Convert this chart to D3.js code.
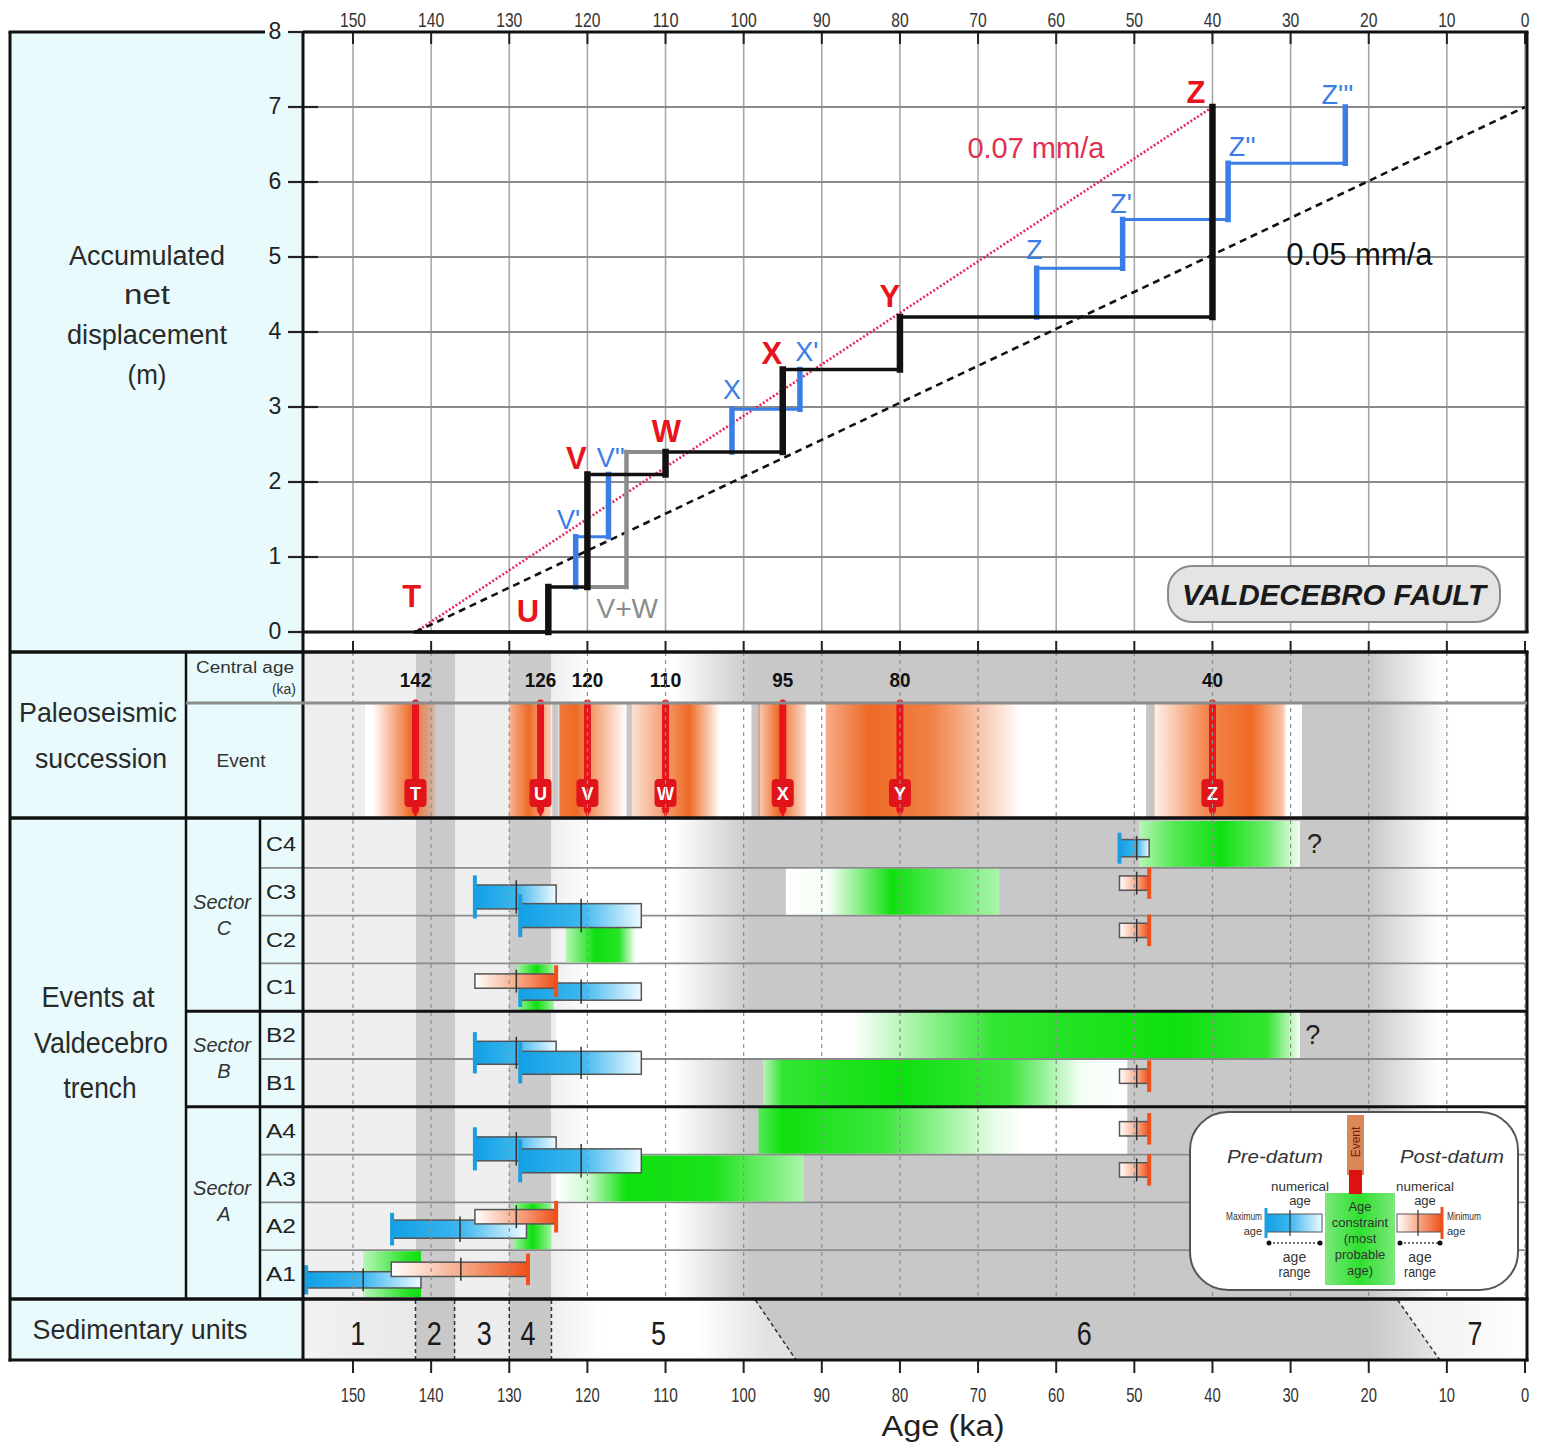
<!DOCTYPE html>
<html>
<head>
<meta charset="utf-8">
<script src="https://cdn.jsdelivr.net/npm/d3@7"></script>
<style>
  body { margin: 0; background: #fff; }
  text { font-family: "Liberation Sans", Arial, sans-serif; }
</style>
</head>
<body>
<svg id="chart" width="1543" height="1453"></svg>
<script>
// ---------------- data ----------------
var ageTicks = [150, 140, 130, 120, 110, 100, 90, 80, 70, 60, 50, 40, 30, 20, 10, 0];
var dispTicks = [0, 1, 2, 3, 4, 5, 6, 7, 8];

var eventNames = ["T", "U", "V", "W", "X", "Y", "Z"];
var eventAges = [142, 126, 120, 110, 95, 80, 40];          // central ages (ka)
var stepAges = [142, 125, 120, 110, 95, 80, 40];           // staircase, main interpretation
var stepDisp = [0, 0.6, 2.1, 2.4, 3.5, 4.2, 7.0];          // accumulated displacement (m)
var redLabelPos = [[142.5, 0.48], [127.6, 0.27], [121.4, 2.32], [109.9, 2.67], [96.4, 3.71], [81.3, 4.48], [42.1, 7.2]];

var altVW = [[120, 0.6], [115, 0.6], [115, 2.4], [110, 2.4]];   // grey V+W alternative
var altBlue = [
  [[121.5, 0.6], [121.5, 1.27], [117.3, 1.27], [117.3, 2.1]],
  [[101.5, 2.4], [101.5, 2.97], [92.8, 2.97], [92.8, 3.5]],
  [[62.5, 4.2], [62.5, 4.85], [51.5, 4.85], [51.5, 5.5], [38, 5.5], [38, 6.25], [23, 6.25], [23, 7.0]]
];
var blueLabels = ["V'", "V''", "X", "X'", "Z", "Z'", "Z''", "Z'''"];
var blueLabelPos = [[122.4, 1.49], [117, 2.32], [101.5, 3.23], [91.9, 3.73], [62.8, 5.09], [51.7, 5.71], [36.2, 6.47], [24, 7.16]];

var rate07 = [[142, 0], [40, 7.0]];
var rate05 = [[142, 0], [0, 7.0]];

// orange glow around each event in the "Event" row: [age, intensity]
var eventGlow = [
  [[147.5, 0], [142.5, 1], [139.5, 0.2]],
  [[130, 0.5], [127.5, 1], [124.6, 0.3]],
  [[123.6, 0.9], [121.5, 1], [115, 0]],
  [[114.3, 0.2], [107, 1], [103, 0]],
  [[98.2, 0.3], [95.5, 1], [92, 0.2]],
  [[89.5, 0.55], [84, 1], [76, 0.85], [64.5, 0]],
  [[48.3, 0], [41, 0.8], [35, 1], [31, 0.4], [30.5, 0]]
];
var eventRowStrips = [[124.5, 123.7], [115, 114.3], [99, 97.9], [48.5, 47.4]];

var rowLabels = ["C4", "C3", "C2", "C1", "B2", "B1", "A4", "A3", "A2", "A1"];
var sectorLabels = [["Sector", "C"], ["Sector", "B"], ["Sector", "A"]];
var sectorSpans = [[0, 4], [4, 6], [6, 10]];

// green "age constraint" bars: [age, intensity]
var greenBars = [
  { row: 0, stops: [[49.4, 0.3], [45, 0.7], [39, 1], [33, 0.6], [28.8, 0.05]] },
  { row: 1, stops: [[94.6, 0], [89, 0.05], [81, 1], [73, 0.6], [67.3, 0.35]] },
  { row: 2, stops: [[122.8, 0.3], [119, 1], [116, 0.9], [113.8, 0], [113.1, 0]] },
  { row: 3, stops: [[129, 0.4], [126.5, 1], [124.3, 0.4]] },
  { row: 4, stops: [[124, 0], [86, 0], [68, 0.85], [45, 1], [33, 0.85], [28.8, 0.05]] },
  { row: 5, stops: [[97.5, 0.3], [95, 0.85], [80, 1], [66, 0.8], [57, 0.05], [50.9, 0]] },
  { row: 6, stops: [[98.1, 0.7], [95, 1], [82, 0.8], [68, 0.1], [64, 0], [50.9, 0]] },
  { row: 7, stops: [[124, 0], [120, 0.2], [115, 1], [104, 0.95], [92.3, 0.35]] },
  { row: 8, stops: [[129.5, 0.4], [127, 1], [124.6, 0.4]] },
  { row: 9, stops: [[148.7, 0.3], [143, 0.9], [141.3, 1]] }
];

// pre-datum (maximum age) bars: ages = [max age, numerical age, end of range]
var preDatum = [
  { row: 1.61, h: 0.5, ages: [134.4, 129.1, 124.0] },
  { row: 2.0, h: 0.5, ages: [128.6, 120.8, 113.1] },
  { row: 3.59, h: 0.36, ages: [128.6, 120.8, 113.1] },
  { row: 4.87, h: 0.48, ages: [134.4, 129.1, 124.0] },
  { row: 5.08, h: 0.48, ages: [128.6, 120.8, 113.1] },
  { row: 6.88, h: 0.5, ages: [134.4, 129.1, 124.0] },
  { row: 7.13, h: 0.5, ages: [128.6, 120.8, 113.1] },
  { row: 0.59, h: 0.36, ages: [51.9, 49.7, 48.1] },
  { row: 8.56, h: 0.38, ages: [145.0, 136.3, 127.8] },
  { row: 9.62, h: 0.34, ages: [156.0, 148.7, 141.3] }
];
// post-datum (minimum age) bars: ages = [start of range, numerical age, min age]
var postDatum = [
  { row: 3.37, h: 0.3, ages: [134.4, 129.1, 124.0] },
  { row: 8.3, h: 0.3, ages: [134.4, 129.1, 124.0] },
  { row: 9.4, h: 0.3, ages: [145.1, 136.2, 127.6] },
  { row: 1.32, h: 0.3, ages: [51.9, 49.7, 48.1] },
  { row: 2.31, h: 0.3, ages: [51.9, 49.7, 48.1] },
  { row: 5.36, h: 0.3, ages: [51.9, 49.7, 48.1] },
  { row: 6.46, h: 0.3, ages: [51.9, 49.7, 48.1] },
  { row: 7.32, h: 0.3, ages: [51.9, 49.7, 48.1] }
];
var questionMarks = [[0, 28.3], [4, 28.5]];

var unitLabels = ["1", "2", "3", "4", "5", "6", "7"];
var unitLabelAges = [149.4, 139.6, 133.2, 127.6, 110.9, 56.4, 6.4];
var unitBounds = [142, 137, 130, 124.6];
var unitDiagonals = [[98.5, 93.3], [16.3, 10.9]];

// background shading (age, colour)
var panelBg = [[156.4, "#efefef"], [142, "#efefef"], [142, "#cacaca"], [137, "#cacaca"], [137, "#efefef"], [130, "#efefef"],
  [130, "#cbcbcb"], [124.6, "#cbcbcb"], [124.6, "#eeeeee"], [119.5, "#ffffff"], [109, "#ffffff"], [99, "#c8c8c8"],
  [20, "#c8c8c8"], [11, "#ffffff"], [0, "#ffffff"]];
var eventRowBg = [[156.4, "#eeeeee"], [148.5, "#eeeeee"], [148.5, "#ffffff"], [142, "#ffffff"], [142, "#cccccc"], [137, "#cccccc"],
  [137, "#eeeeee"], [130, "#eeeeee"], [130, "#ffffff"], [28.6, "#ffffff"], [28.6, "#c8c8c8"], [19.2, "#c8c8c8"], [9.6, "#ffffff"], [0, "#ffffff"]];
var sedBg = [[156.4, "#f2f2f2"], [142, "#e8e8e8"], [142, "#c8c8c8"], [137, "#c8c8c8"], [137, "#ececec"], [130, "#ececec"],
  [130, "#c8c8c8"], [124.6, "#c8c8c8"], [124.6, "#eeeeee"], [118, "#ffffff"], [106, "#ffffff"], [97, "#e2e2e2"], [10, "#f4f4f4"], [0, "#ffffff"]];

// ---------------- setup ----------------
var svg = d3.select("#chart");
var defs = svg.append("defs");
var L = 303, R = 1525;
var x = d3.scaleLinear().domain([156.4, 0]).range([L, R]);
var y = d3.scaleLinear().domain([0, 8]).range([632, 32]);
var ry = d3.scaleLinear().domain([0, 10]).range([820, 1298]);
var rowH = ry(1) - ry(0);
var gid = 0;

function hGrad(x0, x1, stops) {   // stops: [px, colour, opacity]
  var id = "g" + (gid++);
  var g = defs.append("linearGradient").attr("id", id).attr("gradientUnits", "userSpaceOnUse")
    .attr("x1", x0).attr("x2", x1).attr("y1", 0).attr("y2", 0);
  stops.forEach(function (s) {
    g.append("stop").attr("offset", Math.max(0, Math.min(1, (s[0] - x0) / (x1 - x0))))
      .attr("stop-color", s[1]).attr("stop-opacity", s[2] == null ? 1 : s[2]);
  });
  return "url(#" + id + ")";
}
function txt(g, px, py, s, o) {
  o = o || {};
  var t = g.append("text").attr("x", px).attr("y", py).text(s)
    .attr("text-anchor", o.anchor || "middle")
    .attr("dominant-baseline", o.base || "central")
    .attr("font-size", o.size || 20)
    .attr("fill", o.fill || "#222");
  if (o.weight) t.attr("font-weight", o.weight);
  if (o.style) t.attr("font-style", o.style);
  if (o.len) t.attr("textLength", o.len).attr("lengthAdjust", "spacingAndGlyphs");
  return t;
}
function line(g, x1, y1, x2, y2, col, w, dash) {
  var l = g.append("line").attr("x1", x1).attr("y1", y1).attr("x2", x2).attr("y2", y2)
    .attr("stroke", col).attr("stroke-width", w);
  if (dash) l.attr("stroke-dasharray", dash);
  return l;
}

// ---------------- left label column ----------------
svg.append("rect").attr("x", 10).attr("y", 32).attr("width", L - 10).attr("height", 1328).attr("fill", "#e8fafc");

// ---------------- top plot ----------------
var plotG = svg.append("g");
plotG.append("rect").attr("x", L).attr("y", 32).attr("width", R - L).attr("height", 600).attr("fill", "#fff");
plotG.append("rect").attr("x", L).attr("y", 632).attr("width", R - L).attr("height", 20).attr("fill", "#fff");
ageTicks.forEach(function (t) { line(plotG, x(t), 32, x(t), 632, "#a8a8a8", 1.6); });
dispTicks.forEach(function (d) { line(plotG, L, y(d), R, y(d), "#8a8a8a", 1.8); });
ageTicks.forEach(function (t) {
  line(plotG, x(t), 32, x(t), 44, "#222", 2);
  line(plotG, x(t), 641, x(t), 652, "#222", 2);
  txt(plotG, x(t), 19, t, { size: 21, fill: "#333", len: String(t).length * 8.7 });
});
dispTicks.forEach(function (d) {
  line(plotG, 288, y(d), 318, y(d), "#222", 2.2);
  txt(plotG, 275, y(d) - 1, d, { size: 23, fill: "#222" });
});

// rate lines
var lineGen = d3.line().x(function (d) { return x(d[0]); }).y(function (d) { return y(d[1]); });
plotG.append("path").attr("d", lineGen(rate07)).attr("fill", "none").attr("stroke", "#e8285a")
  .attr("stroke-width", 2.6).attr("stroke-dasharray", "2,2");
plotG.append("path").attr("d", lineGen(rate05)).attr("fill", "none").attr("stroke", "#111")
  .attr("stroke-width", 2.6).attr("stroke-dasharray", "7,5");
txt(plotG, x(62.6), y(6.45), "0.07 mm/a", { size: 29, fill: "#e0304f" });
txt(plotG, x(21.2), y(5.03), "0.05 mm/a", { size: 31, fill: "#111" });

function drawSteps(pts, col, wH, wV) {
  for (var i = 0; i < pts.length - 1; i++) {
    var a = pts[i], b = pts[i + 1];
    var vert = a[0] === b[0];
    line(plotG, x(a[0]), y(a[1]), x(b[0]), y(b[1]), col, vert ? wV : wH).attr("stroke-linecap", "square");
  }
}
drawSteps(altVW, "#8c8c8c", 4, 4.5);
altBlue.forEach(function (p) { drawSteps(p, "#3a7de6", 3, 5.5); });
var mainPts = [];
stepAges.forEach(function (a, i) {
  if (i > 0) mainPts.push([a, stepDisp[i - 1]]);
  mainPts.push([a, stepDisp[i]]);
});
drawSteps(mainPts, "#111", 3.5, 6.5);

eventNames.forEach(function (n, i) {
  txt(plotG, x(redLabelPos[i][0]), y(redLabelPos[i][1]), n, { size: 31, weight: "bold", fill: "#e8141c" });
});
blueLabels.forEach(function (n, i) {
  txt(plotG, x(blueLabelPos[i][0]), y(blueLabelPos[i][1]), n, { size: 27, fill: "#3a7de6" });
});
txt(plotG, x(114.9), y(0.32), "V+W", { size: 28, fill: "#8c8c8c" });

plotG.append("rect").attr("x", 1168).attr("y", 566).attr("width", 332).attr("height", 56).attr("rx", 24)
  .attr("fill", "#e4e4e4").attr("stroke", "#8a8a8a").attr("stroke-width", 2);
txt(plotG, 1334, 595, "VALDECEBRO FAULT", { size: 29, weight: "bold", style: "italic", fill: "#1a1a1a", len: 304 });

// ---------------- paleoseismic succession ----------------
var paleo = svg.append("g");
paleo.append("rect").attr("x", L).attr("y", 652).attr("width", R - L).attr("height", 51)
  .attr("fill", hGrad(L, R, panelBg.map(function (s) { return [x(s[0]), s[1]]; })));
paleo.append("rect").attr("x", L).attr("y", 703).attr("width", R - L).attr("height", 115)
  .attr("fill", hGrad(L, R, eventRowBg.map(function (s) { return [x(s[0]), s[1]]; })));
eventRowStrips.forEach(function (s) {
  paleo.append("rect").attr("x", x(s[0])).attr("y", 703).attr("width", x(s[1]) - x(s[0])).attr("height", 115).attr("fill", "#c8c8c8");
});
eventGlow.forEach(function (band) {
  var x0 = x(band[0][0]), x1 = x(band[band.length - 1][0]);
  paleo.append("rect").attr("x", x0).attr("y", 703).attr("width", x1 - x0).attr("height", 115)
    .attr("fill", hGrad(x0, x1, band.map(function (s) { return [x(s[0]), "#ee6a26", s[1]]; })));
});

// ---------------- events panel background ----------------
var ev = svg.append("g");
ev.append("rect").attr("x", L).attr("y", 818).attr("width", R - L).attr("height", 480)
  .attr("fill", hGrad(L, R, panelBg.map(function (s) { return [x(s[0]), s[1]]; })));

// dashed verticals across lower panels
ageTicks.forEach(function (t) {
  if (t < 156) line(svg, x(t), 652, x(t), 1298, "#8e8e8e", 1.2, "4,4");
});

// row lines
d3.range(1, 10).forEach(function (r) {
  line(ev, 260, ry(r), R, ry(r), "#8a8a8a", 1.8);
});

// green bars
var greenScale = d3.interpolateRgb("#ffffff", "#0ee00e");
greenBars.forEach(function (b) {
  var x0 = x(b.stops[0][0]), x1 = x(b.stops[b.stops.length - 1][0]);
  ev.append("rect").attr("x", x0).attr("y", ry(b.row) + 1).attr("width", x1 - x0).attr("height", rowH - 2)
    .attr("fill", hGrad(x0, x1, b.stops.map(function (s) { return [x(s[0]), greenScale(s[1])]; })));
});

function drawPre(d) {
  var x0 = x(d.ages[0]), x1 = x(d.ages[1]), x2 = x(d.ages[2]);
  var h = d.h * rowH, yc = ry(d.row);
  ev.append("rect").attr("x", x0).attr("y", yc - h / 2).attr("width", x2 - x0).attr("height", h)
    .attr("fill", hGrad(x0, x2, [[x0, "#12a0e6"], [x1, "#3cb6ee"], [x2, "#effaff"]]))
    .attr("stroke", "#555").attr("stroke-width", 1.5);
  line(ev, x0, yc - h * 0.9, x0, yc + h * 0.9, "#1a9ee0", 4);
  line(ev, x1, yc - h * 0.7, x1, yc + h * 0.7, "#333", 1.5);
}
function drawPost(d) {
  var x0 = x(d.ages[0]), x1 = x(d.ages[1]), x2 = x(d.ages[2]);
  var h = d.h * rowH, yc = ry(d.row);
  ev.append("rect").attr("x", x0).attr("y", yc - h / 2).attr("width", x2 - x0).attr("height", h)
    .attr("fill", hGrad(x0, x2, [[x0, "#ffffff"], [x1, "#f6ab8a"], [x2, "#f0501a"]]))
    .attr("stroke", "#555").attr("stroke-width", 1.5);
  line(ev, x2, yc - h * 1.1, x2, yc + h * 1.1, "#f0501a", 4);
  line(ev, x1, yc - h * 0.8, x1, yc + h * 0.8, "#333", 1.5);
}
preDatum.forEach(drawPre);
postDatum.forEach(drawPost);
questionMarks.forEach(function (q) {
  txt(ev, x(q[1]) + 3, ry(q[0]) + rowH / 2, "?", { size: 27, fill: "#222", anchor: "start" });
});

// ---------------- sedimentary units ----------------
var sed = svg.append("g");
sed.append("rect").attr("x", L).attr("y", 1298).attr("width", R - L).attr("height", 62)
  .attr("fill", hGrad(L, R, sedBg.map(function (s) { return [x(s[0]), s[1]]; })));
var d0 = unitDiagonals[0], d1 = unitDiagonals[1];
sed.append("polygon")
  .attr("points", [[x(d0[0]), 1300], [x(d1[0]), 1300], [x(d1[1]), 1360], [x(d0[1]), 1360]].join(" "))
  .attr("fill", hGrad(x(d0[0]), x(d1[1]), [[x(d0[0]), "#c8c8c8"], [x(20), "#c8c8c8"], [x(d1[1]), "#e6e6e6"]]));
unitBounds.forEach(function (a) { line(sed, x(a), 1300, x(a), 1360, "#333", 1.5, "4,3"); });
unitDiagonals.forEach(function (dd) { line(sed, x(dd[0]), 1300, x(dd[1]), 1360, "#333", 1.5, "4,3"); });
unitLabels.forEach(function (u, i) {
  txt(sed, x(unitLabelAges[i]), 1333, u, { size: 33, fill: "#1a1a1a", len: 15 });
});

// bottom axis
ageTicks.forEach(function (t) {
  line(svg, x(t), 1360, x(t), 1373, "#222", 2);
  txt(svg, x(t), 1394, t, { size: 21, fill: "#333", len: String(t).length * 8.2 });
});
txt(svg, 943, 1425, "Age (ka)", { size: 30, fill: "#222", len: 123 });

// ---------------- event arrows + central ages ----------------
eventNames.forEach(function (n, i) {
  var px = x(eventAges[i]);
  txt(paleo, px, 680, eventAges[i], { size: 20, weight: "bold", fill: "#111", len: String(eventAges[i]).length * 10.5 });
  line(paleo, px, 703, px, 810, "#e8141c", 7).attr("stroke-linecap", "round");
  paleo.append("path").attr("d", "M" + (px - 4) + ",808L" + px + ",818L" + (px + 4) + ",808Z").attr("fill", "#e8141c");
  paleo.append("rect").attr("x", px - 11).attr("y", 779).attr("width", 22).attr("height", 28).attr("rx", 4).attr("fill", "#e0141a");
  txt(paleo, px, 794, n, { size: 18, weight: "bold", fill: "#fff" });
});

// ---------------- legend ----------------
var lg = svg.append("g");
lg.append("rect").attr("x", 1190).attr("y", 1112).attr("width", 328).attr("height", 178).attr("rx", 38)
  .attr("fill", "#fff").attr("stroke", "#555").attr("stroke-width", 2);
lg.append("rect").attr("x", 1325).attr("y", 1193).attr("width", 70).attr("height", 92)
  .attr("fill", hGrad(1325, 1395, [[1325, "#7be87b"], [1360, "#2ee02e"], [1395, "#7be87b"]]));
lg.append("rect").attr("x", 1347).attr("y", 1115).attr("width", 17).attr("height", 60).attr("fill", "#d9885a");
lg.append("rect").attr("x", 1349).attr("y", 1170).attr("width", 13).attr("height", 24).attr("fill", "#e01010");
txt(lg, 0, 0, "Event", { size: 12, fill: "#7a1a0a" }).attr("transform", "translate(1356,1142) rotate(-90)");
["Age", "constraint", "(most", "probable", "age)"].forEach(function (s, i) {
  txt(lg, 1360, 1206 + i * 16, s, { size: 13, fill: "#333" });
});
txt(lg, 1275, 1157, "Pre-datum", { size: 18, style: "italic", fill: "#333", len: 96 });
txt(lg, 1452, 1157, "Post-datum", { size: 18, style: "italic", fill: "#333", len: 104 });
txt(lg, 1300, 1186, "numerical", { size: 13, fill: "#333", len: 58 });
txt(lg, 1300, 1200, "age", { size: 13, fill: "#333" });
txt(lg, 1425, 1186, "numerical", { size: 13, fill: "#333", len: 58 });
txt(lg, 1425, 1200, "age", { size: 13, fill: "#333" });
lg.append("rect").attr("x", 1266).attr("y", 1214).attr("width", 56).attr("height", 18)
  .attr("fill", hGrad(1266, 1322, [[1266, "#12a0e6"], [1290, "#3cb6ee"], [1322, "#effaff"]])).attr("stroke", "#555");
line(lg, 1266, 1208, 1266, 1238, "#1a9ee0", 3);
line(lg, 1290, 1210, 1290, 1236, "#333", 1.2);
lg.append("rect").attr("x", 1397).attr("y", 1214).attr("width", 45).attr("height", 18)
  .attr("fill", hGrad(1397, 1442, [[1397, "#ffffff"], [1418, "#f6ab8a"], [1442, "#f0501a"]])).attr("stroke", "#555");
line(lg, 1442, 1207, 1442, 1239, "#f0501a", 3);
line(lg, 1418, 1210, 1418, 1236, "#333", 1.2);
txt(lg, 1262, 1216, "Maximum", { size: 11, fill: "#333", anchor: "end", len: 36 });
txt(lg, 1262, 1231, "age", { size: 11, fill: "#333", anchor: "end" });
txt(lg, 1447, 1216, "Minimum", { size: 11, fill: "#333", anchor: "start", len: 34 });
txt(lg, 1447, 1231, "age", { size: 11, fill: "#333", anchor: "start" });
[[1269, 1320], [1400, 1440]].forEach(function (p) {
  line(lg, p[0], 1243, p[1], 1243, "#444", 1.5, "2,2");
  lg.append("circle").attr("cx", p[0]).attr("cy", 1243).attr("r", 2.5).attr("fill", "#111");
  lg.append("circle").attr("cx", p[1]).attr("cy", 1243).attr("r", 2.5).attr("fill", "#111");
  var cx = (p[0] + p[1]) / 2;
  txt(lg, cx, 1257, "age", { size: 14, fill: "#333" });
  txt(lg, cx, 1272, "range", { size: 14, fill: "#333", len: 32 });
});

// ---------------- frames ----------------
var fr = svg.append("g");
line(fr, 8.5, 32, 265, 32, "#111", 3);            // left box top (stops before the "8")
line(fr, L, 32, 1528.5, 32, "#111", 3);           // plot top
line(fr, 10, 32, 10, 1361.5, "#111", 3);
line(fr, 1527, 32, 1527, 633, "#111", 3);
line(fr, 1527, 651, 1527, 1361.5, "#111", 3);
line(fr, 8.5, 1360, 1528.5, 1360, "#111", 3);
line(fr, L, 32, L, 1360, "#111", 3);
line(fr, L, 632, 1528.5, 632, "#111", 3);
line(fr, 10, 652, 1528.5, 652, "#111", 3.5);
line(fr, 10, 818, 1528.5, 818, "#111", 3.5);
line(fr, 10, 1299, 1528.5, 1299, "#111", 3.5);
line(fr, 186, 652, 186, 1299, "#111", 2.5);
line(fr, 260, 818, 260, 1299, "#111", 2.5);
line(fr, 186, 703, 1527, 703, "#8c8c8c", 3);
line(fr, 186, ry(4), 1527, ry(4), "#111", 3);
line(fr, 186, ry(6), 1527, ry(6), "#111", 3);

// ---------------- left column labels ----------------
var lab = svg.append("g");
txt(lab, 147, 256, "Accumulated", { size: 27, len: 156, fill: "#2a2a2a" });
txt(lab, 147, 295, "net", { size: 27, len: 46, fill: "#2a2a2a" });
txt(lab, 147, 335, "displacement", { size: 27, len: 160, fill: "#2a2a2a" });
txt(lab, 147, 375, "(m)", { size: 27, len: 39, fill: "#2a2a2a" });
txt(lab, 98, 712, "Paleoseismic", { size: 28, len: 158, fill: "#2a2a2a" });
txt(lab, 101, 758, "succession", { size: 28, len: 132, fill: "#2a2a2a" });
txt(lab, 245, 667, "Central age", { size: 16, len: 98, fill: "#333" });
txt(lab, 296, 689, "(ka)", { size: 14, anchor: "end", fill: "#333" });
txt(lab, 241, 761, "Event", { size: 18, len: 49, fill: "#333" });
txt(lab, 98, 997, "Events at", { size: 29, len: 113, fill: "#2a2a2a" });
txt(lab, 101, 1043, "Valdecebro", { size: 29, len: 134, fill: "#2a2a2a" });
txt(lab, 100, 1088, "trench", { size: 29, len: 73, fill: "#2a2a2a" });
sectorLabels.forEach(function (s, i) {
  var mid = ry((sectorSpans[i][0] + sectorSpans[i][1]) / 2);
  txt(lab, 222, mid - 14, s[0], { size: 20, style: "italic", len: 58, fill: "#333" });
  txt(lab, 224, mid + 12, s[1], { size: 20, style: "italic", fill: "#333" });
});
rowLabels.forEach(function (r, i) {
  txt(lab, 281, ry(i + 0.5), r, { size: 20, len: 30, fill: "#222" });
});
txt(lab, 140, 1330, "Sedimentary units", { size: 27, len: 215, fill: "#2a2a2a" });
</script>
</body>
</html>
